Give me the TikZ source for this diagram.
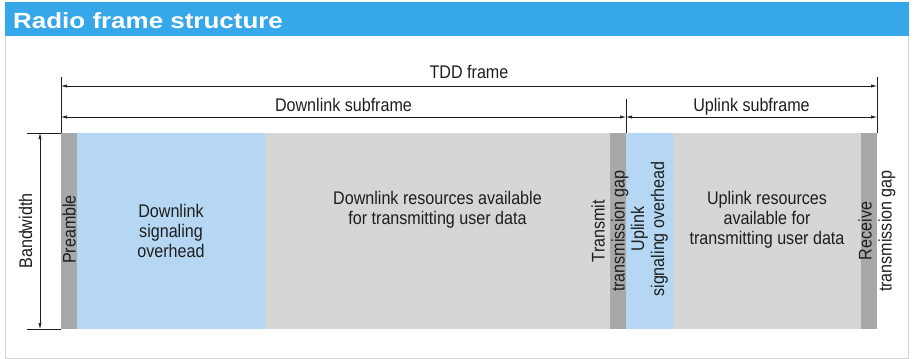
\documentclass[tikz,border=0pt]{standalone}
\usepackage{fontspec}
\setmainfont[FakeStretch=0.88]{Liberation Sans}
\newfontfamily\headfont[FakeStretch=1.18]{Liberation Sans}
\usetikzlibrary{positioning,arrows.meta}

\definecolor{headblue}{HTML}{36A7E8}
\definecolor{ovhblue}{HTML}{B5D7F3}
\definecolor{resgray}{HTML}{D6D6D6}
\definecolor{gapgray}{HTML}{A8A8A8}
\definecolor{panelgray}{HTML}{D4D4D4}
\definecolor{inkgray}{HTML}{1E1E1E}

\tikzset{
  block/.style={inner sep=0pt, outer sep=0pt, minimum height=196pt},
  gapblock/.style={block, fill=gapgray, minimum width=16pt},
  ovhblock/.style={block, fill=ovhblue},
  resblock/.style={block, fill=resgray},
  lbl/.style={font=\fontsize{18.3}{20}\selectfont, text=inkgray, align=center, inner sep=0pt},
  extline/.style={draw=inkgray, line width=0.6pt},
  dimline/.style={draw=inkgray, line width=0.6pt, {Latex[length=6pt,width=3.2pt]}-{Latex[length=6pt,width=3.2pt]}},
}

\begin{document}
\begin{tikzpicture}[x=1pt, y=-1pt]
\useasboundingbox (0,0) rectangle (914,359);
% header bar and panel
\fill[headblue] (5,2) rectangle (909,36);
\draw[panelgray, line width=0.8pt] (5,36) -- (5,358) -- (908,358) -- (908,36);
\node[anchor=base west, inner sep=0pt, text=white, font=\headfont\bfseries\fontsize{22}{24}\selectfont] (title) at (13,28) {Radio frame structure};

% blocks of the frame
\node[gapblock, anchor=north west] (preamble) at (61,133) {};
\node[ovhblock, minimum width=188pt, right=0pt of preamble] (dlovh) {};
\node[resblock, minimum width=345pt, right=0pt of dlovh] (dlres) {};
\node[gapblock, right=0pt of dlres] (txgap) {};
\node[ovhblock, minimum width=47pt, right=0pt of txgap] (ulovh) {};
\node[resblock, minimum width=188pt, right=0pt of ulovh] (ulres) {};
\node[gapblock, right=0pt of ulres] (rxgap) {};

% texts in the blocks
\node[lbl, rotate=90, xshift=1.5pt] at (preamble) {Preamble};
\node[lbl] at (dlovh) {Downlink\\signaling\\overhead};
\node[lbl, yshift=21pt] at (dlres) {Downlink resources available\\for transmitting user data};
\node[lbl, rotate=90] at (txgap.west) {Transmit\\transmission gap};
\node[lbl, rotate=90, xshift=2pt] at (ulovh) {Uplink\\signaling overhead};
\node[lbl, yshift=11pt] at (ulres) {Uplink resources\\available for\\transmitting user data};
\node[lbl, rotate=90] at (rxgap.east) {Receive\\transmission gap};

% extension lines
\coordinate (tddL) at ([yshift=56pt]preamble.north west);
\coordinate (tddR) at ([yshift=56pt]rxgap.north east);
\coordinate (ulL) at ([yshift=34pt]ulovh.north west);
\coordinate (bwT) at ([xshift=-34pt]preamble.north west);
\coordinate (bwB) at ([xshift=-34pt]preamble.south west);
\draw[extline] (preamble.north west) -- (tddL);
\draw[extline] (rxgap.north east) -- (tddR);
\draw[extline] (ulovh.north west) -- (ulL);
\draw[extline] (preamble.north west) -- (bwT);
\draw[extline] (preamble.south west) -- (bwB);

% dimension arrows
\draw[dimline] ([yshift=-9pt]tddL) -- node[lbl, anchor=base, yshift=7.5pt]{TDD frame} ([yshift=-9pt]tddR);
\draw[dimline] ([yshift=-40pt]tddL) -- node[lbl, anchor=base, yshift=5.5pt]{Downlink subframe} ([yshift=-18pt]ulL);
\draw[dimline] ([yshift=-18pt]ulL) -- node[lbl, anchor=base, yshift=5.5pt]{Uplink subframe} ([yshift=-40pt]tddR);
\draw[dimline] ([xshift=13pt]bwT) -- node[lbl, rotate=90, anchor=base, yshift=8pt]{Bandwidth} ([xshift=13pt]bwB);
\end{tikzpicture}
\end{document}
